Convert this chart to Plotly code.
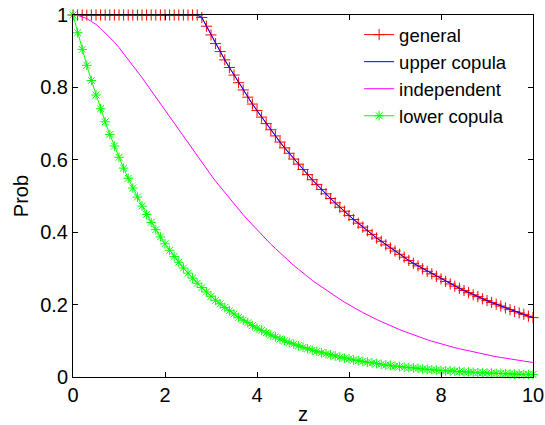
import plotly.graph_objects as go

z = [round(0.1 * i, 1) for i in range(101)]

general = [1.0] * 28 + [
    0.993, 0.969, 0.945, 0.921, 0.899, 0.876, 0.855, 0.834, 0.813, 0.793,
    0.773, 0.754, 0.736, 0.718, 0.700, 0.683, 0.666, 0.649, 0.633, 0.618,
    0.602, 0.588, 0.573, 0.559, 0.545, 0.532, 0.518, 0.506, 0.493, 0.481,
    0.469, 0.458, 0.446, 0.435, 0.425, 0.414, 0.404, 0.394, 0.384, 0.375,
    0.365, 0.356, 0.348, 0.339, 0.331, 0.322, 0.314, 0.307, 0.299, 0.292,
    0.285, 0.278, 0.271, 0.264, 0.257, 0.251, 0.245, 0.239, 0.233, 0.227,
    0.222, 0.216, 0.211, 0.206, 0.201, 0.196, 0.191, 0.186, 0.181, 0.177,
    0.173, 0.168, 0.164]

upper_copula = list(general)

independent = [
    1.000, 0.999, 0.995, 0.990, 0.982, 0.974, 0.963, 0.951, 0.938, 0.925,
    0.910, 0.894, 0.878, 0.861, 0.844, 0.827, 0.809, 0.791, 0.772, 0.754,
    0.736, 0.717, 0.699, 0.681, 0.663, 0.645, 0.627, 0.609, 0.592, 0.575,
    0.558, 0.541, 0.525, 0.509, 0.493, 0.478, 0.463, 0.448, 0.434, 0.420,
    0.406, 0.393, 0.380, 0.367, 0.355, 0.343, 0.331, 0.319, 0.308, 0.298,
    0.287, 0.277, 0.267, 0.258, 0.249, 0.240, 0.231, 0.223, 0.215, 0.207,
    0.199, 0.192, 0.185, 0.178, 0.171, 0.165, 0.159, 0.153, 0.147, 0.141,
    0.136, 0.131, 0.126, 0.121, 0.116, 0.112, 0.107, 0.103, 0.099, 0.095,
    0.092, 0.088, 0.085, 0.081, 0.078, 0.075, 0.072, 0.069, 0.066, 0.064,
    0.061, 0.059, 0.056, 0.054, 0.052, 0.050, 0.048, 0.046, 0.044, 0.042,
    0.040]

lower_copula = [
    1.000, 0.951, 0.905, 0.861, 0.819, 0.779, 0.741, 0.705, 0.670, 0.638,
    0.607, 0.577, 0.549, 0.522, 0.497, 0.472, 0.449, 0.427, 0.407, 0.387,
    0.368, 0.350, 0.333, 0.317, 0.301, 0.287, 0.273, 0.259, 0.247, 0.235,
    0.223, 0.212, 0.202, 0.192, 0.183, 0.174, 0.165, 0.157, 0.150, 0.142,
    0.135, 0.129, 0.122, 0.116, 0.111, 0.105, 0.100, 0.095, 0.091, 0.086,
    0.082, 0.078, 0.074, 0.071, 0.067, 0.064, 0.061, 0.058, 0.055, 0.052,
    0.050, 0.047, 0.045, 0.043, 0.041, 0.039, 0.037, 0.035, 0.033, 0.032,
    0.030, 0.029, 0.027, 0.026, 0.025, 0.024, 0.022, 0.021, 0.020, 0.019,
    0.018, 0.017, 0.017, 0.016, 0.015, 0.014, 0.014, 0.013, 0.012, 0.012,
    0.011, 0.011, 0.010, 0.010, 0.009, 0.009, 0.008, 0.008, 0.007, 0.007,
    0.007]

x_ticks = [0, 2, 4, 6, 8, 10]
x_tick_labels = ["0", "2", "4", "6", "8", "10"]
y_ticks = [0, 0.2, 0.4, 0.6, 0.8, 1]
y_tick_labels = ["0", "0.2", "0.4", "0.6", "0.8", "1"]

FONT = "Liberation Sans, Arial, sans-serif"

fig = go.Figure()
fig.add_trace(go.Scatter(
    x=z, y=general, name="general", mode="lines+markers",
    line=dict(color="#ff0000", width=1),
    marker=dict(symbol="cross-thin-open", size=8, color="#ff0000",
                line=dict(color="#ff0000", width=1)),
    cliponaxis=False))
fig.add_trace(go.Scatter(
    x=z, y=upper_copula, name="upper copula", mode="lines",
    line=dict(color="#0000ff", width=1), cliponaxis=False))
fig.add_trace(go.Scatter(
    x=z, y=independent, name="independent", mode="lines",
    line=dict(color="#ff00ff", width=1), cliponaxis=False))
fig.add_trace(go.Scatter(
    x=z, y=lower_copula, name="lower copula", mode="lines+markers",
    line=dict(color="#00ff00", width=1),
    marker=dict(symbol="asterisk-open", size=8, color="#00ff00",
                line=dict(color="#00ff00", width=1)),
    cliponaxis=False))

axis_common = dict(
    showline=True, linecolor="black", linewidth=1, mirror="ticks",
    ticks="inside", ticklen=5, tickcolor="black", tickwidth=1,
    showgrid=False, zeroline=False, automargin=False,
    tickfont=dict(family=FONT, size=20, color="black"),
)

fig.update_layout(
    width=545, height=425,
    margin=dict(l=73, r=12, t=15, b=48),
    paper_bgcolor="white", plot_bgcolor="white",
    font=dict(family=FONT, size=20, color="black"),
    showlegend=True,
    legend=dict(x=0.622, y=0.997, xanchor="left", yanchor="top",
                bgcolor="rgba(255,255,255,0)", borderwidth=0,
                font=dict(family=FONT, size=18.5, color="black"),
                tracegroupgap=0),
    xaxis=dict(range=[0, 10], tickvals=x_ticks, ticktext=x_tick_labels,
               title=dict(text="z", font=dict(family=FONT, size=20), standoff=2),
               **axis_common),
    yaxis=dict(range=[0, 1], tickvals=y_ticks, ticktext=y_tick_labels,
               title=dict(text="Prob", font=dict(family=FONT, size=20), standoff=6),
               **axis_common),
)

fig.write_html(
    "out.html",
    config={"displayModeBar": False},
    post_script="document.body.style.margin='0';document.body.style.overflow='hidden';",
)
